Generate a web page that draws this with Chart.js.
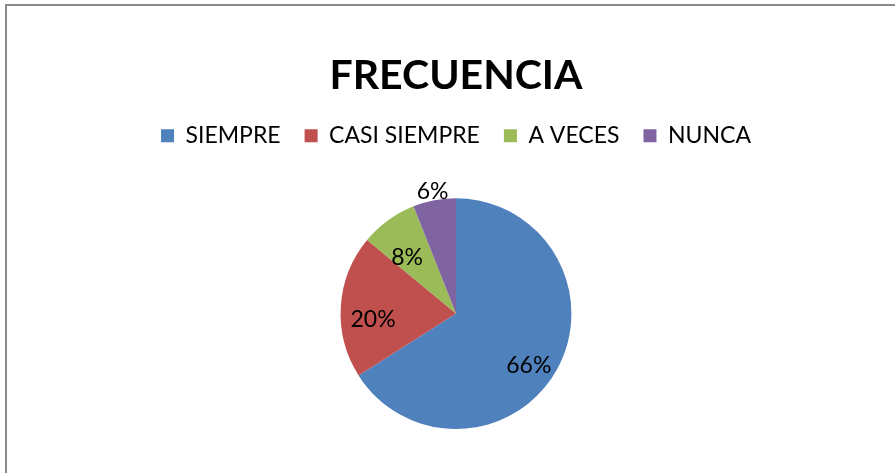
<!DOCTYPE html>
<html>
<head>
<meta charset="utf-8">
<script src="https://cdn.jsdelivr.net/npm/chart.js@4"></script>
<style>
  html, body { margin: 0; padding: 0; background: #fff; }
  #chartContainer { position: relative; width: 895px; height: 473px; }
</style>
</head>
<body>
<div id="chartContainer"><canvas id="grafico"></canvas></div>
<script>
// Datos
const categorias = ['SIEMPRE', 'CASI SIEMPRE', 'A VECES', 'NUNCA'];
const porcentajes = [66, 20, 8, 6];
const colores = ['#4F81BD', '#C0504D', '#9BBB59', '#8064A2'];

// Marco gris del gráfico (solo lados izquierdo y superior visibles)
const marco = {
  id: 'marco',
  beforeDraw(chart) {
    const c = chart.ctx;
    c.save();
    c.fillStyle = '#fff';
    c.fillRect(0, 0, chart.width, chart.height);
    c.strokeStyle = '#8a8a8a';
    c.lineWidth = 2;
    c.beginPath();
    c.moveTo(6, chart.height + 5);
    c.lineTo(6, 5);
    c.lineTo(chart.width + 5, 5);
    c.stroke();
    c.restore();
  }
};

// Espacio extra debajo de la leyenda
const margenLeyenda = {
  id: 'margenLeyenda',
  beforeInit(chart) {
    const fit = chart.legend.fit;
    chart.legend.fit = function () {
      fit.bind(chart.legend)();
      this.height += 41;
    };
  }
};

// Etiquetas de porcentaje sobre cada sector
const etiquetas = {
  id: 'etiquetas',
  afterDatasetsDraw(chart) {
    const c = chart.ctx;
    const meta = chart.getDatasetMeta(0);
    c.save();
    c.font = '23px Lato';
    c.fillStyle = '#000';
    c.textAlign = 'center';
    c.textBaseline = 'middle';
    meta.data.forEach((arc, i) => {
      const v = porcentajes[i];
      const mid = (arc.startAngle + arc.endAngle) / 2;
      const fuera = v < 7;
      const r = arc.outerRadius * (fuera ? 1.08 : 0.72);
      const x = arc.x + Math.cos(mid) * r;
      const y = arc.y + Math.sin(mid) * r + (fuera ? 0 : arc.outerRadius * 0.1);
      c.fillText(v + '%', x, y);
    });
    c.restore();
  }
};

const ctx = document.getElementById('grafico').getContext('2d');
new Chart(ctx, {
  type: 'pie',
  data: {
    labels: categorias,
    datasets: [{
      data: porcentajes,
      backgroundColor: colores,
      borderColor: '#ffffff',
      borderWidth: 0
    }]
  },
  options: {
    responsive: true,
    maintainAspectRatio: false,
    animation: false,
    layout: { padding: { top: 51, bottom: 44, left: 17, right: 0 } },
    plugins: {
      title: {
        display: true,
        text: 'FRECUENCIA',
        color: '#000',
        font: { family: 'Lato', size: 41, weight: 'bold' },
        padding: { top: 0, bottom: 0 }
      },
      legend: {
        position: 'top',
        labels: {
          color: '#000',
          font: { family: 'Lato', size: 23 },
          boxWidth: 13,
          boxHeight: 13,
          padding: 24
        }
      },
      tooltip: { enabled: false }
    }
  },
  plugins: [marco, margenLeyenda, etiquetas]
});
</script>
</body>
</html>
